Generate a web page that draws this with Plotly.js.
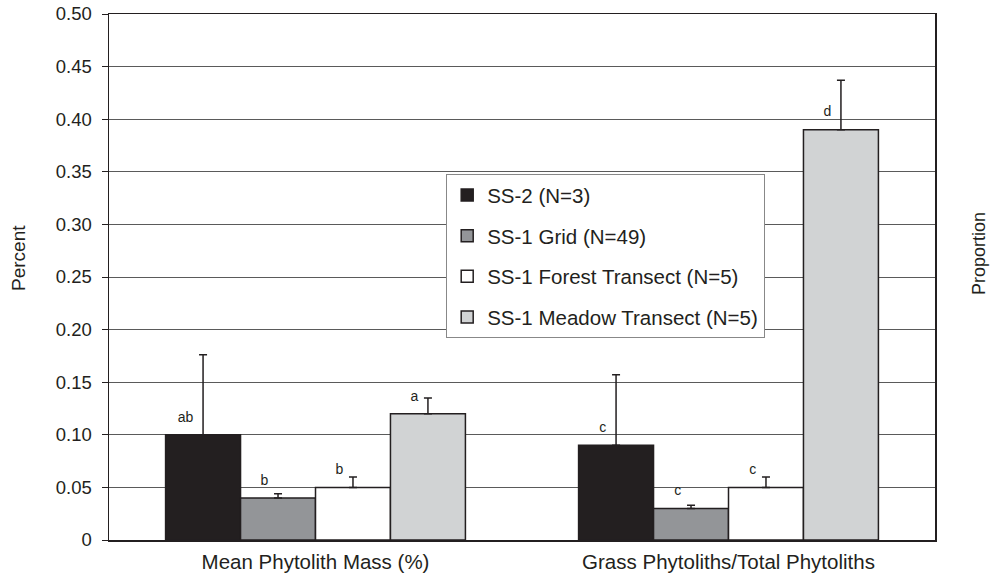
<!DOCTYPE html>
<html><head><meta charset="utf-8">
<script src="https://cdn.plot.ly/plotly-3.0.1.min.js"></script>
<style>html,body{margin:0;padding:0;background:#fff}</style>
</head><body><div id="chart" style="width:990px;height:578px"></div>
<script>
const categories = ["Mean Phytolith Mass (%)", "Grass Phytoliths/Total Phytoliths"];
const seriesNames = ["SS-2 (N=3)", "SS-1 Grid (N=49)", "SS-1 Forest Transect (N=5)", "SS-1 Meadow Transect (N=5)"];
const ss2 = [0.10, 0.09];
const ss1Grid = [0.04, 0.03];
const ss1Forest = [0.05, 0.05];
const ss1Meadow = [0.12, 0.39];
const ss2Err = [0.076, 0.067];
const ss1GridErr = [0.004, 0.003];
const ss1ForestErr = [0.010, 0.010];
const ss1MeadowErr = [0.015, 0.047];
const ss2Letters = ["ab", "c"];
const ss1GridLetters = ["b", "c"];
const ss1ForestLetters = ["b", "c"];
const ss1MeadowLetters = ["a", "d"];
const tickVals = [0, 0.05, 0.10, 0.15, 0.20, 0.25, 0.30, 0.35, 0.40, 0.45, 0.50];
const tickText = ["0", "0.05", "0.10", "0.15", "0.20", "0.25", "0.30", "0.35", "0.40", "0.45", "0.50"];
const leftTitle = "Percent";
const rightTitle = "Proportion";

const values = [ss2, ss1Grid, ss1Forest, ss1Meadow];
const errs = [ss2Err, ss1GridErr, ss1ForestErr, ss1MeadowErr];
const letters = [ss2Letters, ss1GridLetters, ss1ForestLetters, ss1MeadowLetters];
const colors = ["#231f20", "#939598", "#ffffff", "#d1d3d4"];
const ink = "#231f20";
const font = "Liberation Sans, Arial, sans-serif";

const traces = [];
values.forEach((v, i) => {
  traces.push({
    type: "bar", x: categories, y: v, name: seriesNames[i],
    offsetgroup: "g" + i, legendgroup: "g" + i,
    marker: {color: colors[i], line: {color: ink, width: 1.5}},
    error_y: {type: "data", array: errs[i], symmetric: false, arrayminus: [0, 0], visible: true, color: ink, thickness: 1.5, width: 4},
    hoverinfo: "skip"
  });
});
values.forEach((v, i) => {
  traces.push({
    type: "scatter", mode: "markers+text", x: categories, y: v, text: letters[i],
    offsetgroup: "g" + i, showlegend: false,
    marker: {size: 14, color: "rgba(0,0,0,0)"},
    textposition: "top left",
    textfont: {family: font, size: 14, color: ink},
    hoverinfo: "skip", cliponaxis: false
  });
});

const layout = {
  width: 990, height: 578,
  margin: {l: 109, r: 55, t: 14, b: 38},
  paper_bgcolor: "#fff", plot_bgcolor: "#fff",
  barmode: "group", bargap: 0.274, bargroupgap: 0,
  scattermode: "group", scattergap: 0.274,
  font: {family: font, size: 18, color: ink},
  showlegend: true,
  legend: {
    x: (446 - 109) / 826, y: (540 - 174) / 526, xanchor: "left", yanchor: "top",
    bgcolor: "#fff", bordercolor: "#888", borderwidth: 1.2,
    font: {family: font, size: 20.5, color: ink},
    traceorder: "grouped", tracegroupgap: 11,
    itemwidth: 30
  },
  xaxis: {
    type: "category", showgrid: false, ticks: "", showline: true, linecolor: ink, linewidth: 1.5,
    mirror: true, tickfont: {family: font, size: 20.5, color: ink}, ticklabelstandoff: 3, fixedrange: true
  },
  yaxis: {
    range: [0, 0.5], tickvals: tickVals, ticktext: tickText,
    showgrid: true, gridcolor: "#5a5a5a", gridwidth: 1,
    showline: true, linecolor: ink, linewidth: 1.5, mirror: true,
    ticks: "outside", ticklen: 6, tickcolor: ink, tickwidth: 1, ticklabelstandoff: 6,
    tickfont: {family: font, size: 18.5, color: ink},
    zeroline: false, fixedrange: true
  },
  annotations: [
    {text: leftTitle, xref: "paper", yref: "paper", x: (18 - 109) / 826, y: (540 - 258) / 526,
     xanchor: "center", yanchor: "middle", textangle: -90, showarrow: false,
     font: {family: font, size: 19, color: ink}},
    {text: rightTitle, xref: "paper", yref: "paper", x: (979 - 109) / 826, y: (540 - 253) / 526,
     xanchor: "center", yanchor: "middle", textangle: -90, showarrow: false,
     font: {family: font, size: 18, color: ink}}
  ]
};
Plotly.newPlot("chart", traces, layout, {displayModeBar: false, staticPlot: true});
</script></body></html>
